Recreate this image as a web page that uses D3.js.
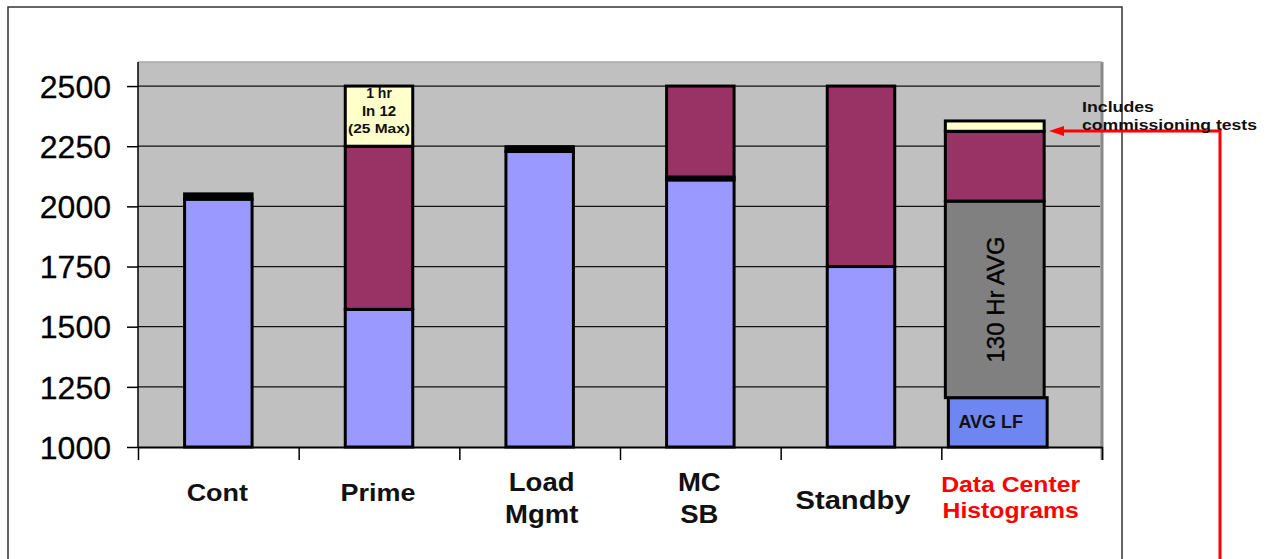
<!DOCTYPE html>
<html>
<head>
<meta charset="utf-8">
<script src="https://cdn.jsdelivr.net/npm/d3@7"></script>
<style>
  html, body { margin: 0; padding: 0; background: #ffffff; }
  svg { display: block; font-family: "Liberation Sans", Arial, sans-serif; }
</style>
</head>
<body>
<svg id="chart" width="1271" height="559"></svg>
<script>
// ---------- data ----------
const categories = ["Cont", "Prime", "Load Mgmt", "MC SB", "Standby", "Data Center Histograms"];
const categoryLines = [["Cont"], ["Prime"], ["Load", "Mgmt"], ["MC", "SB"], ["Standby"], ["Data Center", "Histograms"]];
const yTicks = [1000, 1250, 1500, 1750, 2000, 2250, 2500];
// series values, bottom to top of each stack
const baseTop     = [2030, 1572, 2228, 2110, 1750, 1205];   // blue (AVG LF for data center)
const capTop      = [2052, 1572, 2248, 2122, 1750, 1205];   // thin black segment
const avg130Top   = [null, null, null, null, null, 2022];   // 130 Hr AVG (grey)
const peakTop     = [null, 2250, null, 2500, 2500, 2312];   // maroon
const overloadTop = [null, 2500, null, null, null, 2355];   // light yellow

// ---------- layout ----------
const svg = d3.select("#chart");
const L = 138, R = 1102, T = 62, B = 447;
const x = d3.scaleBand().domain(categories).range([L, R]);
const xi = d3.scaleLinear().domain([0, categories.length]).range([L, R]);
const y = d3.scaleLinear().domain([1000, 2600]).range([B, T]);

// outer frame
svg.append("rect").attr("x", 8).attr("y", 7).attr("width", 1114).attr("height", 700)
  .attr("fill", "none").attr("stroke", "#333").attr("stroke-width", 1.5);

// plot background
svg.append("rect").attr("x", L).attr("y", T).attr("width", R - L).attr("height", B - T)
  .attr("fill", "#c0c0c0");
svg.append("line").attr("x1", R).attr("x2", R).attr("y1", T).attr("y2", B + 13)
  .attr("stroke", "#8a8a8a").attr("stroke-width", 3);
svg.append("line").attr("x1", L).attr("x2", R).attr("y1", T).attr("y2", T)
  .attr("stroke", "#a8a8a8").attr("stroke-width", 1.5);

// gridlines
svg.append("g").selectAll("line").data(yTicks.filter(v => v > 1000)).join("line")
  .attr("x1", L).attr("x2", R - 2).attr("y1", d => y(d)).attr("y2", d => y(d))
  .attr("stroke", "#111").attr("stroke-width", 1.3);

// bars
const stroke = "#000";
const sw = 3;
categories.forEach((c, i) => {
  const isDC = i === categories.length - 1;
  const bw = isDC ? x.bandwidth() * 0.615 : x.bandwidth() * 0.42;
  const x0 = isDC ? x(c) + x.bandwidth() * 0.025 : x(c) + (x.bandwidth() - bw) / 2;
  const segs = [];
  segs.push({ from: 1000, to: baseTop[i], fill: isDC ? "#6e86f2" : "#9999ff", dx: isDC ? 3 : 0 });
  let top = baseTop[i];
  if (capTop[i] > top) { segs.push({ from: top, to: capTop[i], fill: "#000" }); top = capTop[i]; }
  if (avg130Top[i] != null) { segs.push({ from: top, to: avg130Top[i], fill: "#808080" }); top = avg130Top[i]; }
  if (peakTop[i] != null) { segs.push({ from: top, to: peakTop[i], fill: "#993366" }); top = peakTop[i]; }
  if (overloadTop[i] != null) { segs.push({ from: top, to: overloadTop[i], fill: "#ffffcc" }); top = overloadTop[i]; }
  svg.append("g").selectAll("rect").data(segs).join("rect")
    .attr("x", d => x0 + (d.dx || 0))
    .attr("width", bw)
    .attr("y", d => y(d.to))
    .attr("height", d => y(d.from) - y(d.to))
    .attr("fill", d => d.fill)
    .attr("stroke", stroke).attr("stroke-width", sw);
});

// text inside bars
const primeCx = x("Prime") + x.bandwidth() / 2;
const inBar = svg.append("g").attr("font-weight", "bold").attr("text-anchor", "middle").attr("fill", "#111");
inBar.append("text").attr("x", primeCx).attr("y", y(2500) + 12).attr("font-size", 14).text("1 hr");
inBar.append("text").attr("x", primeCx).attr("y", y(2500) + 30).attr("font-size", 15).text("In 12");
inBar.append("text").attr("x", primeCx).attr("y", y(2500) + 47).attr("font-size", 12)
  .attr("textLength", 62).attr("lengthAdjust", "spacingAndGlyphs").text("(25 Max)");

const dc = categories[categories.length - 1];
const dcCx = x(dc) + x.bandwidth() * 0.025 + x.bandwidth() * 0.615 / 2;
svg.append("text")
  .attr("transform", `translate(${dcCx + 9},${(y(1205) + y(2022)) / 2}) rotate(-90)`)
  .attr("text-anchor", "middle").attr("font-size", 24).attr("fill", "#000")
  .attr("stroke", "#000").attr("stroke-width", 0.4)
  .text("130 Hr AVG");
svg.append("text").attr("x", dcCx - 4).attr("y", y(1000) - 19)
  .attr("text-anchor", "middle").attr("font-size", 18).attr("font-weight", "bold").attr("fill", "#111")
  .text("AVG LF");

// axes
const yAxis = d3.axisLeft(y).tickValues(yTicks).tickSize(11).tickSizeOuter(0).tickPadding(16)
  .tickFormat(d3.format("d"));
const gy = svg.append("g").attr("transform", `translate(${L},0)`).call(yAxis);
gy.select(".domain").attr("d", `M0,${T}V${B}`).attr("stroke", "#000").attr("stroke-width", 1.5);
gy.selectAll(".tick line").attr("stroke", "#000").attr("stroke-width", 1.5);
gy.selectAll(".tick text").attr("font-size", 32).attr("fill", "#000")
  .attr("stroke", "#000").attr("stroke-width", 0.3)
  .attr("font-family", "'Liberation Sans', Arial, sans-serif").attr("dy", "0.35em");

const xAxis = d3.axisBottom(xi).tickValues(d3.range(categories.length + 1)).tickSize(13)
  .tickSizeOuter(0).tickFormat("");
const gx = svg.append("g").attr("transform", `translate(0,${B})`).call(xAxis);
gx.select(".domain").attr("stroke", "#000").attr("stroke-width", 2);
gx.selectAll(".tick line").attr("stroke", "#000").attr("stroke-width", 1.5);

// category labels
const labelDx = [-1, -1, 2, -1, -8, -11];
const labelSize = [24.5, 24.5, 25, 25, 26.5, 22.5];
const labelBase = [[501], [501], [491, 523], [491, 523], [509], [492, 518]];
categories.forEach((c, i) => {
  const cx = x(c) + x.bandwidth() / 2 + labelDx[i];
  const isDC = i === categories.length - 1;
  categoryLines[i].forEach((line, j) => {
    svg.append("text")
      .attr("transform", `translate(${cx},${labelBase[i][j]}) scale(1.1,1)`)
      .attr("text-anchor", "middle").attr("font-weight", "bold")
      .attr("font-size", labelSize[i]).attr("fill", isDC ? "#ff0000" : "#111")
      .text(line);
  });
});

// annotation
const ann = svg.append("g");
const arrowY = 131;
ann.append("path")
  .attr("d", `M1220,559V${arrowY}H1062`)
  .attr("fill", "none").attr("stroke", "#ff0000").attr("stroke-width", 3);
ann.append("path")
  .attr("d", `M1049,${arrowY}L1064,${arrowY - 5}L1064,${arrowY + 5}Z`)
  .attr("fill", "#ff0000");
ann.append("text").attr("x", 1082).attr("y", 112).attr("font-size", 15).attr("font-weight", "bold")
  .attr("fill", "#111").attr("textLength", 72).attr("lengthAdjust", "spacingAndGlyphs").text("Includes");
ann.append("text").attr("x", 1082).attr("y", 130).attr("font-size", 15).attr("font-weight", "bold")
  .attr("fill", "#111").attr("textLength", 175).attr("lengthAdjust", "spacingAndGlyphs").text("commissioning tests");
</script>
</body>
</html>
